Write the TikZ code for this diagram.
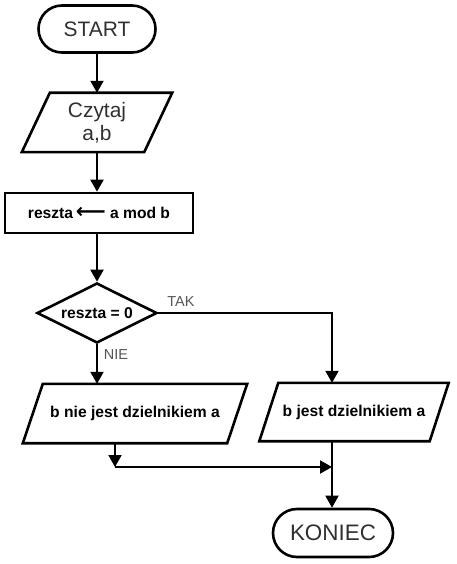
\documentclass[tikz,border=0pt]{standalone}
\usepackage{fontspec}
\setmainfont{Liberation Sans}
\newfontfamily\arrowfont{DejaVu Sans}
\usetikzlibrary{shapes.geometric,shapes.misc,arrows.meta}
\definecolor{termgray}{HTML}{303030}
\definecolor{lblgray}{HTML}{555555}
\begin{document}
\begin{tikzpicture}[x=1bp,y=-1bp,
  shp/.style={draw=black, line width=2.6bp},
  term/.style={shp, rounded rectangle, minimum width=117bp, minimum height=47bp, inner sep=0pt, text=termgray, font=\fontsize{21}{23}\selectfont},
  boldtxt/.style={inner sep=0pt, font=\bfseries\fontsize{15.7}{18}\selectfont},
  conn/.style={line width=2bp, -{Triangle[width=13bp,length=12bp]}},
  lbl/.style={text=lblgray, font=\fontsize{14.5}{16}\selectfont, inner sep=0pt}]
\useasboundingbox (0,0) rectangle (457,564);

% nodes
\node[term] (start) at (97,29) {START};
\node[inner sep=0pt, minimum width=122bp, minimum height=59bp, align=center,
      text=termgray, font=\fontsize{21}{23}\selectfont] (czy) at (97,122.5) {Czytaj\\a,b};
\node[shp, boldtxt, minimum width=188bp, minimum height=40bp] (calc) at (99,213)
  {reszta\,{\arrowfont\bfseries\fontsize{21}{21}\selectfont ⟵}\;a mod b};
\node[shp, boldtxt, diamond, aspect=2, minimum width=120bp, minimum height=60bp] (dia) at (97,313) {reszta = 0};
\node[boldtxt, minimum width=204bp, minimum height=59bp] (lp) at (135,413.5) {b nie jest dzielnikiem a};
\node[boldtxt, minimum width=170bp, minimum height=58bp] (rp) at (354,412) {b jest dzielnikiem a};
\node[term, minimum width=120bp, minimum height=48bp, font=\fontsize{22.5}{24}\selectfont] (end) at (333,533) {KONIEC};
\node[lbl] (tak) at (181,302) {TAK};
\node[lbl] (nie) at (116,355) {NIE};

% parallelograms
\draw[shp] ([xshift=-14bp]czy.south west) -- ([xshift=-14bp]czy.south east) -- ([xshift=14bp]czy.north east) -- ([xshift=14bp]czy.north west) -- cycle;
\draw[shp] ([xshift=-10bp]lp.south west) -- ([xshift=-10bp]lp.south east) -- ([xshift=10bp]lp.north east) -- ([xshift=10bp]lp.north west) -- cycle;
\draw[shp] ([xshift=-9.5bp]rp.south west) -- ([xshift=-9.5bp]rp.south east) -- ([xshift=9.5bp]rp.north east) -- ([xshift=9.5bp]rp.north west) -- cycle;

% connectors
\coordinate (j) at (332,467);
\coordinate (k) at (115,467);
\draw[conn] (start.south) -- (start.south |- czy.north);
\draw[conn] (czy.south) -- (czy.south |- calc.north);
\draw[conn] (calc.south -| dia.north) -- (dia.north);
\draw[conn] (dia.south) -- (dia.south |- lp.north);
\draw[conn] (dia.east) -| (j |- rp.north);
\draw[conn] (k |- lp.south) -- (k);
\draw[conn] (k) -- (j);
\draw[conn] (j |- rp.south) -- (j |- end.north);
\end{tikzpicture}
\end{document}
